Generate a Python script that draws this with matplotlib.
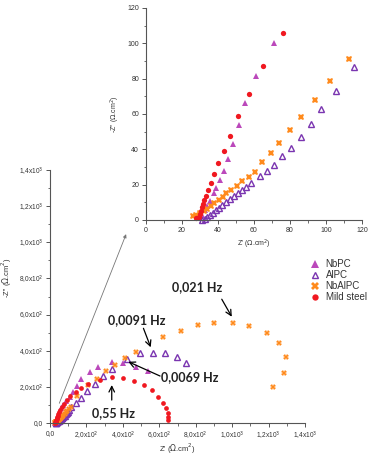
import matplotlib
matplotlib.use('Agg')
import matplotlib.pyplot as plt
from matplotlib.ticker import MultipleLocator, FixedLocator, FixedFormatter

# Nyquist data, Z' and -Z'' in ohm.cm2
steel_x = [28, 29.6, 30, 30.6, 31.1, 31.7, 32.4, 33.3, 34.6, 35.9, 37.8, 40.0, 43.1, 46.5, 51.1, 57.0,
           65.0, 75.9, 92, 110, 141, 170, 210, 275, 339, 403, 463, 518, 559, 595, 623, 637, 647, 650, 650]
steel_y = [0.9, 1.5, 3.4, 5.3, 7.2, 9.1, 11.3, 13.6, 17.0, 21.2, 26.1, 32.1, 39.3, 47.8, 58.8, 71.6,
           87.1, 105.9, 128, 150, 172, 194, 215, 238, 252, 247, 232, 210, 182, 145, 109, 81, 57, 35, 17]

nbpc_x = [30, 31, 32.5, 34, 35.5, 37.6, 38.9, 40.9, 43.1, 45.6, 48.1, 51.9, 55.2, 61.3, 71.3,
          90, 110, 128, 147, 170, 220, 265, 339, 400, 470, 540]
nbpc_y = [1, 3, 5.5, 8, 11, 15.1, 18.3, 22.5, 28.0, 34.6, 43.1, 53.7, 66.0, 81.5, 100.4,
          120, 145, 173, 204, 243, 284, 311, 339, 330, 310, 288]

alpc_x = [31.1, 32.6, 33.9, 35.4, 37.0, 38.7, 40.4, 42.2, 44.3, 46.5, 48.7, 50.9, 53.3, 55.7, 58.3,
          63.5, 67.2, 70.9, 75.7, 80.7, 85.9, 91.7, 97.4, 105.4, 115.5,
          140, 170, 205, 245, 290, 340, 421, 495, 564, 632, 696, 745]
alpc_y = [0, 0.8, 1.7, 2.8, 4.2, 5.5, 7.0, 8.5, 10.2, 11.9, 13.6, 15.1, 17.0, 18.9, 20.8,
          25.0, 27.8, 31.4, 36.1, 41.0, 47.1, 54.1, 62.8, 73.3, 86.5,
          113, 140, 175, 215, 258, 300, 352, 385, 390, 385, 365, 330]

nbalpc_x = [26, 28, 30, 32, 34, 36, 38, 40.5, 42.5, 44.3, 47.2, 50.6, 53.5, 57.0, 60.4, 64.6,
            69.3, 74.0, 80.2, 85.9, 93.9, 102.4, 112.6,
            150, 211, 256, 308, 357, 410, 472, 623, 721, 810, 903, 1007, 1093, 1190, 1255, 1297, 1286, 1227]
nbalpc_y = [2.5, 3, 4, 5, 6.5, 8, 9.5, 11.5, 13.3, 15.1, 17.0, 19.3, 22, 24.6, 27.0, 32.9,
            38.0, 43.7, 50.9, 58.2, 67.7, 78.6, 91.3,
            150, 210, 245, 286, 319, 361, 394, 474, 511, 542, 555, 555, 538, 496, 441, 367, 278, 197]

labels = ['NbPC', 'AlPC', 'NbAlPC', 'Mild steel']
main_ticks = [0, 200, 400, 600, 800, 1000, 1200, 1400]
main_ticklabels = ['0,0', '2,0x10$^2$', '4,0x10$^2$', '6,0x10$^2$', '8,0x10$^2$',
                   '1,0x10$^3$', '1,2x10$^3$', '1,4x10$^3$']

c_nbpc = '#bb48bb'
c_alpc = '#7a35b0'
c_nbalpc = '#ff8a1c'
c_steel = '#f01820'

plt.rcParams['font.family'] = ['Liberation Sans', 'DejaVu Sans']

W, H = 372, 459
fig = plt.figure(figsize=(W / 100, H / 100), dpi=100)


def px_axes(l, t, r, b):
    return fig.add_axes([l / W, 1 - b / H, (r - l) / W, (b - t) / H])


def style(ax, fs):
    for s in ['top', 'right']:
        ax.spines[s].set_visible(False)
    for s in ['left', 'bottom']:
        ax.spines[s].set_color('#555555')
        ax.spines[s].set_linewidth(0.8)
    ax.tick_params(which='major', direction='out', length=3, width=0.7, colors='#555555',
                   labelsize=fs, labelcolor='#333333', pad=2)
    ax.tick_params(which='minor', direction='out', length=1.8, width=0.6, colors='#555555')
    ax.set_facecolor('none')


def keep(xs, ys, lim):
    # only the points that fall inside the zoomed window
    pts = [(x, y) for x, y in zip(xs, ys) if x < lim and y < lim]
    return [p[0] for p in pts], [p[1] for p in pts]


def draw(ax, ms, lim):
    x, y = keep(nbpc_x, nbpc_y, lim)
    ax.plot(x, y, '^', color=c_nbpc, ms=ms, mew=0, ls='none', clip_on=False, label=labels[0])
    x, y = keep(alpc_x, alpc_y, lim)
    ax.plot(x, y, '^', mfc='none', mec=c_alpc, mew=1.0, ms=ms - 0.5, ls='none',
            clip_on=False, label=labels[1])
    x, y = keep(nbalpc_x, nbalpc_y, lim)
    ax.plot(x, y, 'X', color=c_nbalpc, ms=ms, mew=0, ls='none', clip_on=False, label=labels[2])
    x, y = keep(steel_x, steel_y, lim)
    ax.plot(x, y, 'o', color=c_steel, ms=ms - 0.8, mew=0, ls='none', clip_on=False,
            label=labels[3])


# main plot
ax = px_axes(50, 170, 305, 423)
style(ax, 4.8)
draw(ax, 4.2, 1400)
ax.set_xlim(0, 1400)
ax.set_ylim(0, 1400)
ax.xaxis.set_major_locator(FixedLocator(main_ticks))
ax.xaxis.set_major_formatter(FixedFormatter(main_ticklabels))
ax.yaxis.set_major_locator(FixedLocator(main_ticks))
ax.yaxis.set_major_formatter(FixedFormatter(main_ticklabels))
ax.xaxis.set_minor_locator(MultipleLocator(100))
ax.yaxis.set_minor_locator(MultipleLocator(100))
ax.set_xlabel("Z' ($\\Omega$.cm$^2$)", fontsize=5.5, color='#333333')
ax.xaxis.set_label_coords(0.5, -19 / 253)
ax.set_ylabel("-Z'' ($\\Omega$.cm$^2$)", fontsize=5.5, color='#333333')
ax.yaxis.set_label_coords(-36 / 255, (423 - 278) / 253)

bold = dict(family=['Lato', 'DejaVu Sans'], fontweight='bold', fontsize=9, ha='center',
            va='center', color='#222222')
arrow = dict(arrowstyle='->', color='black', lw=0.9, shrinkA=0, shrinkB=0)
ax.annotate('', xy=(339, 210), xytext=(339, 127), arrowprops=arrow)
ax.text(346, 55, '0,55 Hz', **bold)
ax.annotate('', xy=(553, 419), xytext=(513, 524), arrowprops=arrow)
ax.text(475, 570, '0,0091 Hz', **bold)
ax.annotate('', xy=(430, 339), xytext=(604, 260), arrowprops=arrow)
ax.text(769, 255, '0,0069 Hz', **bold)
ax.annotate('', xy=(998, 588), xytext=(943, 685), arrowprops=arrow)
ax.text(808, 753, '0,021 Hz', **bold)

# grey pointer towards the zoomed inset
ax.annotate('', xy=(418, 1045), xytext=(51, 109),
            arrowprops=dict(arrowstyle='-|>', color='#777777', lw=0.6, mutation_scale=5,
                            shrinkA=0, shrinkB=0), annotation_clip=False)

# inset
ins = px_axes(146, 8, 362, 220)
style(ins, 5)
draw(ins, 4.6, 120)
ins.set_xlim(0, 120)
ins.set_ylim(0, 120)
ins.xaxis.set_major_locator(MultipleLocator(20))
ins.yaxis.set_major_locator(MultipleLocator(20))
ins.xaxis.set_minor_locator(MultipleLocator(10))
ins.yaxis.set_minor_locator(MultipleLocator(10))
ins.set_xlabel("Z' ($\\Omega$.cm$^2$)", fontsize=5, color='#333333', labelpad=3)
ins.set_ylabel("-Z'' ($\\Omega$.cm$^2$)", fontsize=5, color='#333333', labelpad=4)

handles, labs = ins.get_legend_handles_labels()
fig.legend(handles, labs, loc='upper left', bbox_to_anchor=(311 / W, 1 - 259 / H),
           frameon=False, fontsize=7, handlelength=0.9, handletextpad=0.6, labelspacing=0.12,
           borderpad=0, borderaxespad=0, labelcolor='#333333', markerscale=1.2)

fig.savefig('out.png', dpi=100)
